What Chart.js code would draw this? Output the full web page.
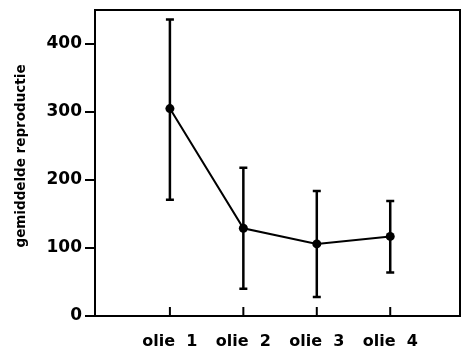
<!DOCTYPE html>
<html>
<head>
<meta charset="utf-8">
<script src="https://cdn.jsdelivr.net/npm/chart.js@4/dist/chart.umd.min.js"></script>
<style>
  html, body { margin: 0; padding: 0; background: #fff; overflow: hidden; }
  #wrap { width: 461px; height: 350px; }
  canvas { display: block; }
</style>
</head>
<body>
<div id="wrap"><canvas id="c" width="461" height="350"></canvas></div>
<script>
const categories = ["olie  1", "olie  2", "olie  3", "olie  4"];
const positions = [1, 2, 3, 4];
const means = [305, 129, 106, 117];
const upper = [436, 218, 184, 169];
const lower = [171, 40, 28, 64];
const yTicks = [0, 100, 200, 300, 400];
const yTitle = "gemiddelde reproductie";

const FONT = "'DejaVu Sans', sans-serif";

const points = positions.map((x, i) => ({ x: x, y: means[i] }));

const errorBars = {
  id: 'errorBars',
  afterDatasetsDraw(chart) {
    const ctx = chart.ctx;
    const xs = chart.scales.x, ys = chart.scales.y;
    ctx.save();
    ctx.strokeStyle = '#000';
    ctx.lineWidth = 2.5;
    ctx.lineCap = 'butt';
    positions.forEach((p, i) => {
      const px = xs.getPixelForValue(p);
      const top = ys.getPixelForValue(upper[i]);
      const bot = ys.getPixelForValue(lower[i]);
      ctx.beginPath();
      ctx.moveTo(px, top); ctx.lineTo(px, bot);
      ctx.moveTo(px - 4, top); ctx.lineTo(px + 4, top);
      ctx.moveTo(px - 4, bot); ctx.lineTo(px + 4, bot);
      ctx.stroke();
    });
    ctx.restore();
  }
};

const frame = {
  id: 'frame',
  afterDraw(chart) {
    const ctx = chart.ctx;
    const a = chart.chartArea;
    const xs = chart.scales.x;
    ctx.save();
    ctx.strokeStyle = '#000';
    ctx.lineWidth = 2;
    ctx.strokeRect(a.left, a.top, a.right - a.left, a.bottom - a.top);
    ctx.beginPath();
    positions.forEach(p => {
      const px = xs.getPixelForValue(p);
      ctx.moveTo(px, a.bottom);
      ctx.lineTo(px, a.bottom - 9);
    });
    ctx.stroke();
    // y-axis title
    ctx.fillStyle = '#000';
    ctx.font = "bold 13.5px " + FONT;
    ctx.textAlign = 'center';
    ctx.textBaseline = 'alphabetic';
    ctx.translate(25, (a.top + a.bottom) / 2 - 7);
    ctx.rotate(-Math.PI / 2);
    ctx.fillText(yTitle, 0, 0);
    ctx.restore();
  }
};

new Chart(document.getElementById('c'), {
  type: 'scatter',
  data: {
    datasets: [{
      data: points,
      showLine: true,
      borderColor: '#000',
      borderWidth: 2,
      backgroundColor: '#000',
      pointRadius: 4.5,
      pointBorderWidth: 0,
      pointHoverRadius: 4.5
    }]
  },
  options: {
    responsive: false,
    animation: false,
    layout: { autoPadding: false, padding: { left: 0, right: 1, top: 10, bottom: 0 } },
    plugins: { legend: { display: false }, tooltip: { enabled: false } },
    scales: {
      x: {
        type: 'linear',
        min: -0.02, max: 4.95,
        afterBuildTicks(scale) { scale.ticks = positions.map(v => ({ value: v })); },
        afterFit(scale) {
          scale.height = 34;
          scale.paddingLeft = 0; scale.paddingRight = 0;
          scale.paddingTop = 0; scale.paddingBottom = 0;
        },
        ticks: {
          color: '#000',
          font: { family: FONT, size: 16, weight: 'bold' },
          padding: 16,
          maxRotation: 0,
          autoSkip: false,
          callback(v) { const i = positions.indexOf(v); return i >= 0 ? categories[i] : ''; }
        },
        grid: { display: false, drawTicks: false },
        border: { display: false }
      },
      y: {
        min: 0, max: 450,
        afterBuildTicks(scale) { scale.ticks = yTicks.map(v => ({ value: v })); },
        afterFit(scale) {
          scale.width = 95;
          scale.paddingLeft = 0; scale.paddingRight = 0;
          scale.paddingTop = 0; scale.paddingBottom = 0;
        },
        ticks: {
          color: '#000',
          font: { family: FONT, size: 17, weight: 'bold' },
          padding: 3
        },
        grid: { drawOnChartArea: false, drawTicks: true, tickLength: 10, color: '#000', lineWidth: 2 },
        border: { display: false },
        title: { display: false }
      }
    }
  },
  plugins: [errorBars, frame]
});
</script>
</body>
</html>
